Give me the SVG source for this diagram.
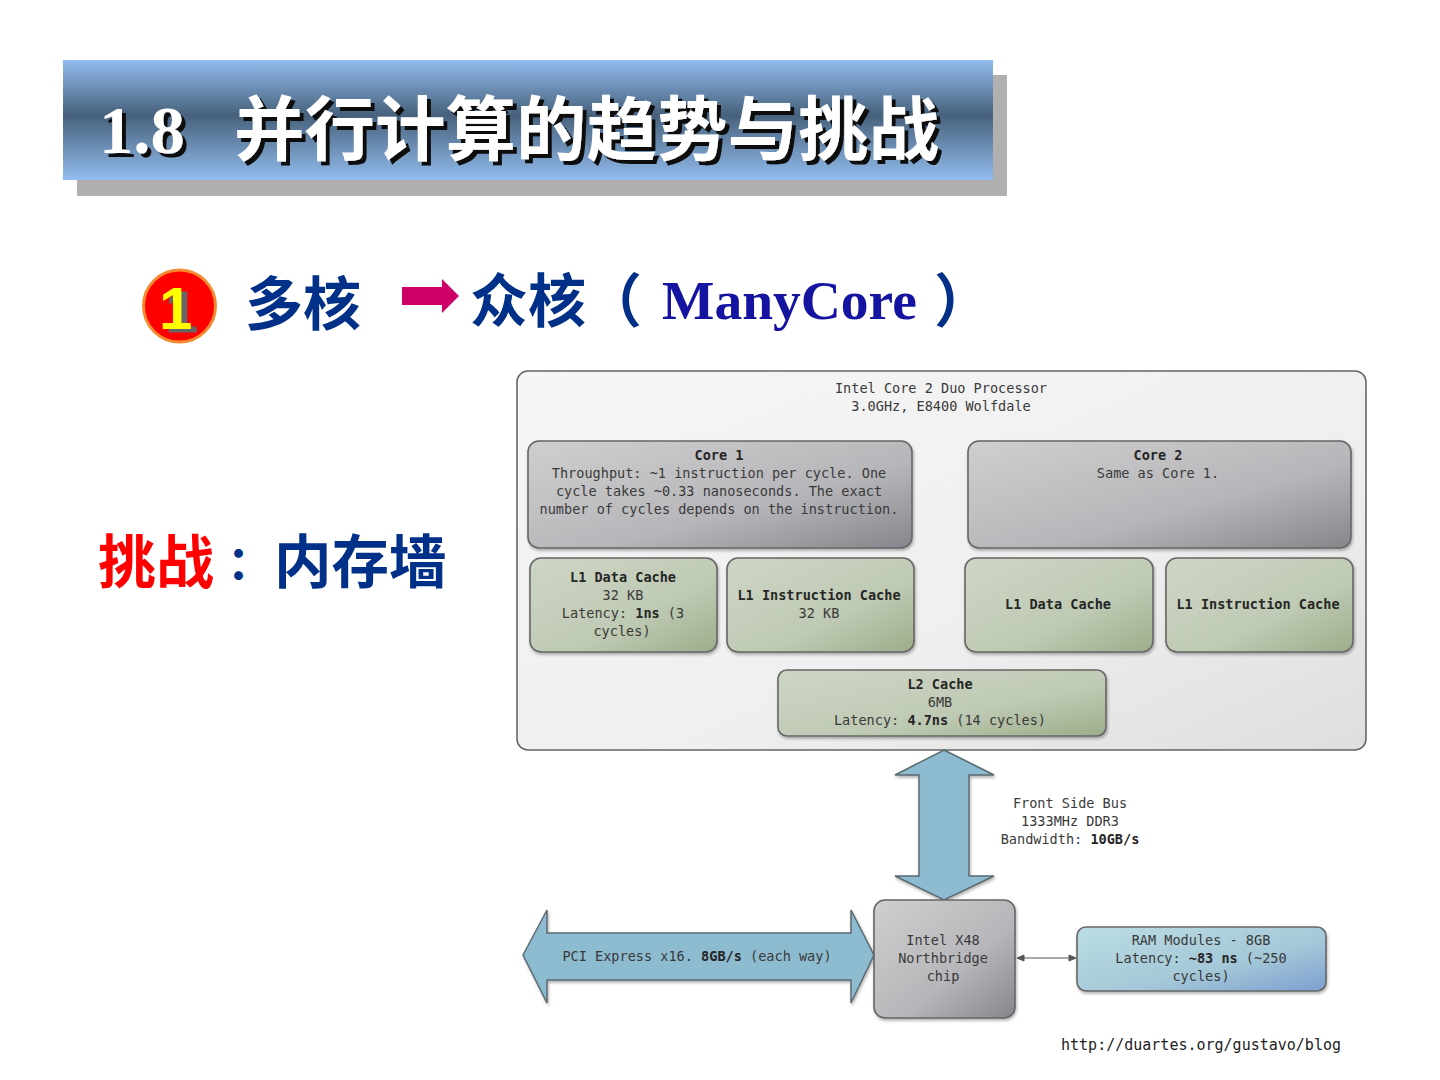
<svg xmlns="http://www.w3.org/2000/svg" width="1440" height="1080" viewBox="0 0 1440 1080">
<style>
.m{font-family:"DejaVu Sans Mono","Liberation Mono",monospace;font-size:13.55px;fill:#3a3a3a;text-anchor:middle}
.b{font-weight:700;fill:#262626}
.box{stroke:#666;stroke-width:1.6}
.cjk{font-family:"Noto Sans CJK SC",sans-serif;font-weight:700}
.ser{font-family:"Liberation Serif","Noto Sans CJK SC",serif;font-weight:700}
.arr{fill:#8dbbd0;stroke:#5b6a70;stroke-width:1.5;stroke-linejoin:miter}
</style>
<defs>
<linearGradient id="band" x1="0" y1="0" x2="0" y2="1"><stop offset="0" stop-color="#92bdee"/><stop offset=".46" stop-color="#47617c"/><stop offset="1" stop-color="#92bdee"/></linearGradient>
<linearGradient id="grey" x1="0" y1="0" x2="1" y2="1"><stop offset="0" stop-color="#cfcfcf"/><stop offset=".6" stop-color="#b6b6ba"/><stop offset="1" stop-color="#85858b"/></linearGradient>
<linearGradient id="green" x1="0" y1="0" x2="1" y2="1"><stop offset="0" stop-color="#cdd6c5"/><stop offset=".6" stop-color="#bfcab4"/><stop offset="1" stop-color="#9dad89"/></linearGradient>
<linearGradient id="outer" x1="0" y1="0" x2="1" y2="1"><stop offset="0" stop-color="#f6f6f6"/><stop offset=".6" stop-color="#efefef"/><stop offset="1" stop-color="#dedede"/></linearGradient>
<linearGradient id="ram" x1="0" y1="0" x2="1" y2="1"><stop offset="0" stop-color="#bcdde2"/><stop offset=".6" stop-color="#a4c8d8"/><stop offset="1" stop-color="#7d9fd0"/></linearGradient>
<filter id="sh" x="-5%" y="-5%" width="110%" height="115%"><feDropShadow dx="1" dy="2" stdDeviation="1.5" flood-color="#000" flood-opacity=".3"/></filter>
<filter id="ts" x="-5%" y="-10%" width="110%" height="125%"><feDropShadow dx="4" dy="4" stdDeviation="0" flood-color="#111" flood-opacity="1"/></filter>
<filter id="ns" x="-40%" y="-20%" width="180%" height="140%"><feDropShadow dx="6" dy="3.500" stdDeviation="0" flood-color="#666" flood-opacity="1"/></filter>
</defs>

<g id="title">
<rect x="77" y="75" width="930" height="121" fill="#b0b0b0"/>
<rect x="63" y="60" width="930" height="120" fill="url(#band)"/>
<text x="99" y="153" class="ser" font-size="68.500" fill="#fff" filter="url(#ts)">1.8</text>
<text x="234" y="155" class="cjk" font-size="70.500" fill="#fff" filter="url(#ts)">并行计算的趋势与挑战</text>
</g>

<g id="subtitle">
<circle cx="179.500" cy="306" r="36" fill="#ff0000" stroke="#f58a30" stroke-width="3"/>
<text x="159" y="329" font-family="Liberation Sans,sans-serif" font-weight="700" font-size="60" fill="#ffff00" filter="url(#ns)">1</text>
<text x="245" y="325" class="cjk" font-size="58" fill="#003087">多核</text>
<polygon points="402,287 442,287 442,279 459,296 442,313 442,305 402,305" fill="#cc0066"/>
<text x="470" y="322" class="cjk" font-size="58" fill="#003087">众核</text>
<text x="584" y="322" class="cjk" font-size="58" fill="#003087">（</text>
<text x="662" y="319" class="ser" font-size="55.500" fill="#1414a0">ManyCore</text>
<text x="934" y="322" class="cjk" font-size="58" fill="#003087">）</text>
</g>

<g id="challenge">
<text x="98" y="583" class="cjk" font-size="58" fill="#ff0000">挑战</text>
<text x="227" y="579" class="cjk" font-size="46" fill="#003087">：</text>
<text x="274" y="583" class="cjk" font-size="57.500" fill="#003087">内存墙</text>
</g>

<g id="processor">
<rect x="517" y="371" width="849" height="379" rx="11" fill="url(#outer)" stroke="#666" stroke-width="1.6"/>
<text x="941" y="393" class="m">Intel Core 2 Duo Processor</text>
<text x="941" y="411" class="m">3.0GHz, E8400 Wolfdale</text>
</g>

<g id="core1">
<rect class="box" x="528" y="441" width="384" height="107" rx="11" fill="url(#grey)" filter="url(#sh)"/>
<text x="719" y="460" class="m b">Core 1</text>
<text x="719" y="478" class="m">Throughput: ~1 instruction per cycle. One</text>
<text x="719" y="496" class="m">cycle takes ~0.33 nanoseconds. The exact</text>
<text x="719" y="514" class="m">number of cycles depends on the instruction.</text>
</g>

<g id="core2">
<rect class="box" x="968" y="441" width="383" height="107" rx="11" fill="url(#grey)" filter="url(#sh)"/>
<text x="1158" y="460" class="m b">Core 2</text>
<text x="1158" y="478" class="m">Same as Core 1.</text>
</g>

<g id="l1d1">
<rect class="box" x="530" y="558" width="187" height="94" rx="11" fill="url(#green)" filter="url(#sh)"/>
<text x="623" y="582" class="m b">L1 Data Cache</text>
<text x="623" y="600" class="m">32 KB</text>
<text x="623" y="618" class="m">Latency: <tspan class="b">1ns</tspan> (3</text>
<text x="622" y="636" class="m">cycles)</text>
</g>

<g id="l1i1">
<rect class="box" x="727" y="558" width="187" height="94" rx="11" fill="url(#green)" filter="url(#sh)"/>
<text x="819" y="600" class="m b">L1 Instruction Cache</text>
<text x="819" y="618" class="m">32 KB</text>
</g>

<g id="l1d2">
<rect class="box" x="965" y="558" width="188" height="94" rx="11" fill="url(#green)" filter="url(#sh)"/>
<text x="1058" y="609" class="m b">L1 Data Cache</text>
</g>

<g id="l1i2">
<rect class="box" x="1166" y="558" width="187" height="94" rx="11" fill="url(#green)" filter="url(#sh)"/>
<text x="1258" y="609" class="m b">L1 Instruction Cache</text>
</g>

<g id="l2">
<rect class="box" x="778" y="670" width="328" height="66" rx="9" fill="url(#green)" filter="url(#sh)"/>
<text x="940" y="689" class="m b">L2 Cache</text>
<text x="940" y="707" class="m">6MB</text>
<text x="940" y="725" class="m">Latency: <tspan class="b">4.7ns</tspan> (14 cycles)</text>
</g>

<g id="connectors">
<polygon class="arr" filter="url(#sh)" points="944,750 994,775 969,775 969,876 994,876 944,900 895,876 919,876 919,775 895,775"/>
<polygon class="arr" filter="url(#sh)" points="523,955 547,910 547,933 851,933 851,910 874,955 851,1003 851,980 547,980 547,1003"/>
<g stroke="#555" stroke-width="1" fill="#555">
<line x1="1020" y1="958" x2="1072" y2="958"/>
<polygon points="1017,958 1024,955 1024,961"/>
<polygon points="1076,958 1069,955 1069,961"/>
</g>
</g>

<g id="fsb-label">
<text x="1070" y="808" class="m">Front Side Bus</text>
<text x="1070" y="826" class="m">1333MHz DDR3</text>
<text x="1070" y="844" class="m">Bandwidth: <tspan class="b">10GB/s</tspan></text>
</g>

<g id="pci-label">
<text x="697" y="961" class="m">PCI Express x16. <tspan class="b">8GB/s</tspan> (each way)</text>
</g>

<g id="northbridge">
<rect class="box" x="874" y="900" width="141" height="118" rx="11" fill="url(#grey)" filter="url(#sh)"/>
<text x="943" y="945" class="m">Intel X48</text>
<text x="943" y="963" class="m">Northbridge</text>
<text x="943" y="981" class="m">chip</text>
</g>

<g id="ram-node">
<rect class="box" x="1077" y="927" width="249" height="64" rx="9" fill="url(#ram)" filter="url(#sh)"/>
<text x="1201" y="945" class="m">RAM Modules - 8GB</text>
<text x="1201" y="963" class="m">Latency: <tspan class="b">~83 ns</tspan> (~250</text>
<text x="1201" y="981" class="m">cycles)</text>
</g>

<g id="credit">
<text x="1201" y="1050" class="m" style="font-size:15px;fill:#222">http://duartes.org/gustavo/blog</text>
</g>
</svg>
